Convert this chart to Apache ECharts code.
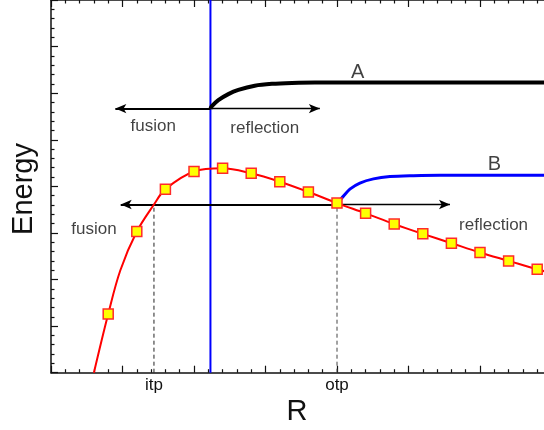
<!DOCTYPE html>
<html>
<head>
<meta charset="utf-8">
<script src="https://cdn.jsdelivr.net/npm/echarts@6/dist/echarts.min.js"></script>
<style>
html,body{margin:0;padding:0;background:#fff;}
#c{width:544px;height:430px;}
</style>
</head>
<body>
<div id="c"></div>
<script>
// ---- data ----
const xRange = [0, 7];
const yRange = [0, 8];

// potential (red) curve with square markers
const markerX = [0.8, 1.2, 1.6, 2.0, 2.4, 2.8, 3.2, 3.6, 4.0, 4.4, 4.8, 5.2, 5.6, 6.0, 6.4, 6.8];
const markerY = [1.26, 3.03, 3.94, 4.32, 4.39, 4.28, 4.10, 3.88, 3.64, 3.42, 3.19, 2.98, 2.78, 2.58, 2.40, 2.22];
const redX = [0.60, 0.8, 0.97, 1.2, 1.44, 1.6, 2.0, 2.4, 2.8, 3.2, 3.6, 4.0, 4.4, 4.8, 5.2, 5.6, 6.0, 6.4, 6.8, 7.0];
const redY = [0.00, 1.26, 2.20, 3.03, 3.61, 3.94, 4.32, 4.39, 4.28, 4.10, 3.88, 3.64, 3.42, 3.19, 2.98, 2.78, 2.58, 2.40, 2.22, 2.14];

// curve A (black)
const curveAX = [2.23, 2.25, 2.34, 2.48, 2.62, 2.85, 3.09, 3.37, 3.69, 3.97, 7.0];
const curveAY = [5.67, 5.72, 5.85, 5.98, 6.07, 6.16, 6.20, 6.22, 6.23, 6.23, 6.23];

// curve B (blue)
const curveBX = [4.0, 4.02, 4.09, 4.18, 4.32, 4.51, 4.74, 5.07, 5.44, 7.0];
const curveBY = [3.64, 3.67, 3.79, 3.94, 4.07, 4.16, 4.21, 4.23, 4.24, 4.24];

// vertical blue line position
const wallX = 2.23;

// turning points
const itpX = 1.44, itpY = 3.61;
const otpX = 4.0, otpY = 3.64;
const tickNames = {itp: itpX, otp: otpX};

// arrows
const upperArrowY = 5.67;
const upperFusion = [2.23, 0.9];
const upperReflection = [2.23, 3.76];
const lowerArrowY = 3.61;
const lowerFusion = [4.0, 0.975];
const lowerReflection = [4.0, 5.58];

// annotation texts [x, y, text]
const smallTexts = [
  [1.43, 5.29, 'fusion'],
  [2.99, 5.25, 'reflection'],
  [0.60, 3.08, 'fusion'],
  [6.19, 3.17, 'reflection']
];
const curveLabels = [
  [4.29, 6.45, 'A'],
  [6.20, 4.46, 'B']
];

const zip = (xs, ys) => xs.map((x, i) => [x, ys[i]]);
const FONT = 'Liberation Sans, Arial, sans-serif';

const chart = echarts.init(document.getElementById('c'), null, {renderer: 'canvas'});

const axisLineStyle = {color: '#111', width: 1.5};
function xAxisBase(pos) {
  return {
    type: 'value', min: xRange[0], max: xRange[1], interval: 1, position: pos,
    axisLine: {show: true, onZero: false, lineStyle: axisLineStyle},
    axisTick: {show: true, inside: true, length: 7, lineStyle: {color: '#111', width: 1.2}},
    minorTick: {show: true, splitNumber: 5, length: 3.5, lineStyle: {color: '#111', width: 1.2}},
    splitLine: {show: false}, minorSplitLine: {show: false},
    axisLabel: {show: false}
  };
}
const xBottom = xAxisBase('bottom');
xBottom.axisLabel = {
  show: true,
  customValues: [itpX, otpX],
  margin: 4,
  fontSize: 17,
  fontFamily: FONT,
  color: '#111',
  formatter: function (v) {
    let best = null, d = 1e9;
    for (const k in tickNames) {
      const dd = Math.abs(tickNames[k] - v);
      if (dd < d) { d = dd; best = k; }
    }
    return best;
  }
};
const xTop = xAxisBase('top');

function arrowLine(from, to, y, width) {
  return [{coord: [from, y], symbol: 'none'}, {coord: [to, y], symbol: 'arrow', symbolSize: [7, 11],
    lineStyle: {color: '#000', width: width, type: 'solid'}}];
}

const option = {
  animation: false,
  backgroundColor: '#fff',
  grid: {left: 51, top: 0, right: -7.5, bottom: 57.3, containLabel: false, outerBoundsMode: 'none'},
  xAxis: [xBottom, xTop],
  yAxis: [{
    type: 'value', min: yRange[0], max: yRange[1], interval: 1, position: 'left',
    axisLine: {show: true, onZero: false, lineStyle: axisLineStyle},
    axisTick: {show: true, inside: true, length: 7, lineStyle: {color: '#111', width: 1.2}},
    minorTick: {show: true, splitNumber: 5, length: 3.5, lineStyle: {color: '#111', width: 1.2}},
    splitLine: {show: false}, minorSplitLine: {show: false},
    axisLabel: {show: false}
  }],
  graphic: [
    {type: 'text', x: 24, y: 189, rotation: Math.PI / 2,
     style: {text: 'Energy', fontSize: 29, fontFamily: FONT, fill: '#111', align: 'center', verticalAlign: 'middle'}},
    {type: 'text', x: 297, y: 412,
     style: {text: 'R', fontSize: 29, fontFamily: FONT, fill: '#111', align: 'center', verticalAlign: 'middle'}}
  ],
  series: [
    // dashed turning point lines
    {type: 'line', data: [[itpX, 0], [itpX, itpY]], symbol: 'none', z: 2,
     lineStyle: {color: '#222', width: 1, type: [4, 3]}},
    {type: 'line', data: [[otpX, 0], [otpX, otpY]], symbol: 'none', z: 2,
     lineStyle: {color: '#444', width: 1, type: [4, 3]}},
    // blue wall
    {type: 'line', data: [[wallX, yRange[0]], [wallX, yRange[1]]], symbol: 'none', z: 3,
     lineStyle: {color: '#0000ff', width: 2}},
    // arrows
    {type: 'line', data: [], symbol: 'none', z: 4,
     markLine: {silent: true, animation: false, label: {show: false}, symbol: ['none', 'arrow'],
       data: [
         arrowLine(upperFusion[0], upperFusion[1], upperArrowY, 2),
         arrowLine(upperReflection[0], upperReflection[1], upperArrowY, 1.3),
         arrowLine(lowerFusion[0], lowerFusion[1], lowerArrowY, 2),
         arrowLine(lowerReflection[0], lowerReflection[1], lowerArrowY, 1.3)
       ],
       itemStyle: {color: '#000'},
       lineStyle: {color: '#000', type: 'solid'}
     }},
    // curve A
    {type: 'line', data: zip(curveAX, curveAY), symbol: 'none', smooth: 0.3, z: 5,
     lineStyle: {color: '#000', width: 4}},
    // curve B
    {type: 'line', data: zip(curveBX, curveBY), symbol: 'none', smooth: 0.3, z: 5,
     lineStyle: {color: '#0000ff', width: 3}},
    // red potential
    {type: 'line', data: zip(redX, redY), symbol: 'none', smooth: 0.35, z: 6,
     lineStyle: {color: '#ff0000', width: 2}},
    // markers
    {type: 'scatter', data: zip(markerX, markerY), symbol: 'rect', symbolSize: 10, z: 7,
     itemStyle: {color: '#ffff00', borderColor: '#ff2a2a', borderWidth: 1.5, opacity: 1}},
    // small annotation texts
    {type: 'scatter', data: smallTexts.map(t => ({value: [t[0], t[1]], name: t[2]})), symbolSize: 1, z: 8,
     itemStyle: {color: 'rgba(0,0,0,0)'},
     label: {show: true, position: 'inside', formatter: p => p.name, fontSize: 17, fontFamily: FONT, color: '#111'}},
    {type: 'scatter', data: curveLabels.map(t => ({value: [t[0], t[1]], name: t[2]})), symbolSize: 1, z: 8,
     itemStyle: {color: 'rgba(0,0,0,0)'},
     label: {show: true, position: 'inside', formatter: p => p.name, fontSize: 20, fontFamily: FONT, color: '#111'}}
  ]
};
chart.setOption(option);
</script>
</body>
</html>
